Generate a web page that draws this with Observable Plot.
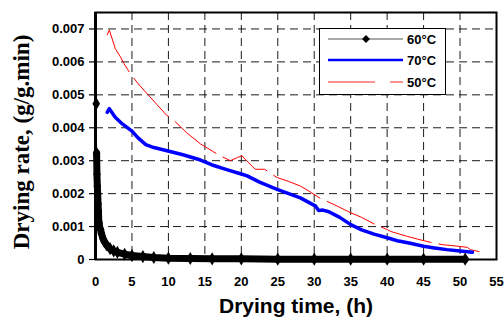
<!DOCTYPE html>
<html>
<head>
<meta charset="utf-8">
<script src="https://cdn.jsdelivr.net/npm/d3@7"></script>
<script src="https://cdn.jsdelivr.net/npm/@observablehq/plot@0.6"></script>
<style>
  html, body { margin: 0; padding: 0; background: #fff; }
  #chart { position: relative; width: 504px; height: 327px; }
</style>
</head>
<body>
<div id="chart"></div>
<script>
// ---- Data ----
const series = ["60°C", "70°C", "50°C"];

// 60°C (black diamonds)
const t60 = [0.1, 0.15, 0.2, 0.25, 0.3, 0.35, 0.4, 0.45, 0.5, 0.6, 0.7, 0.8, 1.0, 1.2, 1.5, 2.0, 2.5, 3.0, 4.0, 5.0, 6.5, 8.0, 10, 13, 16, 20, 25, 30, 35, 40, 45, 50.7];
const v60 = [0.00473, 0.00323, 0.00259, 0.00223, 0.00198, 0.00169, 0.00147, 0.00116, 0.0011, 0.00095, 0.0009, 0.0008, 0.00065, 0.00055, 0.00045, 0.00033, 0.00026, 0.00022, 0.00016, 0.00012, 0.00009, 0.00006, 0.00004, 0.00003, 0.00002, 0.00002, 0.00001, 0.00001, 0.00001, 0.00001, 0.00001, 0.00001];

// 70°C (thick blue)
const t70 = [1.6, 1.9, 2.7, 3.5, 5, 5.8, 6.9, 8, 9.8, 12, 14.4, 16, 18, 20.1, 20.8, 22.5, 24.9, 26.5, 28.1, 30.2, 30.6, 31.2, 32, 33.5, 35, 36.5, 38.2, 40, 41.4, 43, 45, 46.5, 48.2, 50, 51.7];
const v70 = [0.00447, 0.00458, 0.00432, 0.00415, 0.0039, 0.0037, 0.00349, 0.0034, 0.0033, 0.00318, 0.00302, 0.00287, 0.00273, 0.00259, 0.00254, 0.00235, 0.00213, 0.002, 0.00187, 0.00162, 0.00149, 0.0015, 0.00145, 0.00128, 0.00106, 0.0009, 0.00077, 0.00066, 0.00057, 0.0005, 0.0004, 0.00035, 0.0003, 0.00026, 0.00022];

// 50°C (thin red, long dashes)
const t50 = [1.6, 1.9, 2.7, 3.4, 3.9, 4.9, 6, 7.3, 9.8, 10.05, 11, 12.5, 14.4, 16.1, 17.1, 18.5, 19.5, 20.1, 20.5, 21.9, 23.2, 24.9, 26.5, 28.1, 29.4, 30.8, 32.7, 35, 36.5, 38.2, 40, 40.5, 42.8, 44.5, 46, 47.6, 49, 51, 51.4, 52.6];
const v50 = [0.00682, 0.00697, 0.00641, 0.00616, 0.00595, 0.0056, 0.0053, 0.00498, 0.00437, 0.00434, 0.00417, 0.00385, 0.00351, 0.00328, 0.00315, 0.003, 0.0031, 0.00315, 0.00305, 0.00274, 0.00274, 0.00249, 0.00237, 0.00223, 0.00206, 0.00186, 0.00167, 0.00142, 0.00128, 0.00108, 0.00091, 0.00085, 0.0007, 0.0006, 0.00052, 0.00045, 0.00042, 0.00037, 0.0003, 0.00024];

const xTicks = [0, 5, 10, 15, 20, 25, 30, 35, 40, 45, 50, 55];
const yTicks = [0, 0.001, 0.002, 0.003, 0.004, 0.005, 0.006, 0.007];
const xTitle = "Drying time, (h)";
const yTitle = "Drying rate, (g/g.min)";

// ---- Build tables ----
const d60 = t60.map((t, i) => ({t, v: v60[i]}));
const d70 = t70.map((t, i) => ({t, v: v70[i]}));
const d50 = t50.map((t, i) => ({t, v: v50[i]}));

const sans = "'Liberation Sans', Arial, sans-serif";
const serif = "'Liberation Serif', 'Times New Roman', serif";

const plot = Plot.plot({
  width: 504,
  height: 327,
  marginLeft: 95,
  marginRight: 8,
  marginTop: 12,
  marginBottom: 68,
  style: {fontFamily: sans, fontWeight: "bold", fontSize: "13px", color: "#000", background: "#fff"},
  x: {domain: [0, 55], ticks: xTicks},
  y: {domain: [0, 0.0075], ticks: yTicks},
  marks: [
    Plot.gridX(xTicks, {stroke: "#000", strokeOpacity: 1, strokeWidth: 0.9, strokeDasharray: "8,5"}),
    Plot.gridY(yTicks, {stroke: "#000", strokeOpacity: 1, strokeWidth: 0.9, strokeDasharray: "8,5"}),
    Plot.axisY(yTicks, {tickSize: 6, tickPadding: 5, strokeWidth: 1.2, tickFormat: d => d === 0 ? "0" : d.toFixed(3), fontWeight: "bold", fontSize: 13, label: null}),
    Plot.axisX(xTicks, {tickSize: 0, tickPadding: 17, tickFormat: d => String(d), fontWeight: "bold", fontSize: 13, label: null}),
    // 50°C
    Plot.line(d50, {x: "t", y: "v", stroke: "#ff0000", strokeWidth: 1, strokeDasharray: "52,8"}),
    // 70°C
    Plot.line(d70, {x: "t", y: "v", stroke: "#0000ff", strokeWidth: 3.5, strokeLinejoin: "round"}),
    // 60°C
    Plot.line(d60, {x: "t", y: "v", stroke: "#000", strokeWidth: 1}),
    Plot.line(d60.filter(d => d.t >= 0.15), {x: "t", y: "v", stroke: "#000", strokeWidth: 7, strokeLinecap: "round", strokeLinejoin: "round"}),
    Plot.dot(d60, {x: "t", y: "v", symbol: "diamond", r: 4, fill: "#000", stroke: "none"}),
    Plot.frame({stroke: "#000", strokeWidth: 2}),
    Plot.ruleX([0], {stroke: "#000", strokeWidth: 3}),
    Plot.text([xTitle], {frameAnchor: "bottom", dy: 53, fontSize: 21, fontWeight: "bold", fontFamily: sans}),
    Plot.text([yTitle], {frameAnchor: "left", textAnchor: "middle", rotate: -90, dx: -74, dy: 6, fontSize: 23, fontWeight: "bold", fontFamily: serif})
  ]
});

document.getElementById("chart").appendChild(plot);

// ---- Legend (boxed, inside the plot area) ----
const svg = d3.select(plot);
const lg = svg.append("g").attr("font-family", sans).attr("font-weight", "bold").attr("font-size", 13).attr("text-anchor", "start");
lg.append("rect").attr("x", 319.5).attr("y", 28.5).attr("width", 126).attr("height", 66)
  .attr("fill", "#fff").attr("stroke", "#000").attr("stroke-width", 1);
const rows = [
  {label: series[0], y: 39},
  {label: series[1], y: 60},
  {label: series[2], y: 82}
];
// 60°C
lg.append("line").attr("x1", 328).attr("x2", 403).attr("y1", rows[0].y).attr("y2", rows[0].y).attr("stroke", "#555").attr("stroke-width", 1);
lg.append("path").attr("d", d3.symbol(d3.symbolDiamond2, 40)()).attr("transform", `translate(366,${rows[0].y})`).attr("fill", "#000");
// 70°C
lg.append("line").attr("x1", 328).attr("x2", 403).attr("y1", rows[1].y).attr("y2", rows[1].y).attr("stroke", "#0000ff").attr("stroke-width", 2.5);
// 50°C
lg.append("line").attr("x1", 328).attr("x2", 403).attr("y1", rows[2].y).attr("y2", rows[2].y).attr("stroke", "#ff7070").attr("stroke-width", 1.5).attr("stroke-dasharray", "47,15");
for (const r of rows) {
  lg.append("text").attr("x", 407).attr("y", r.y).attr("dy", "0.35em").attr("fill", "#000").text(r.label);
}
</script>
</body>
</html>
